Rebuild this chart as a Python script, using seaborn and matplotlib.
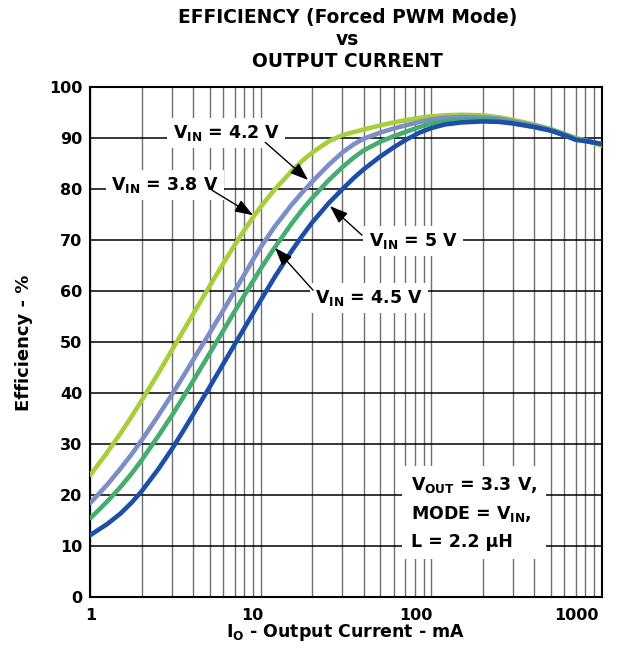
import matplotlib
matplotlib.use('Agg')
import matplotlib.pyplot as plt
import matplotlib.transforms as mtransforms
import pandas as pd
import seaborn as sns

# values
current_ma = [1, 1.25, 1.5, 1.75, 2, 2.5, 3, 3.5, 4, 5, 6, 7, 8, 9, 10, 12,
              15, 17.5, 20, 25, 30, 35, 40, 50, 60, 70, 85, 100, 120, 150,
              200, 250, 300, 400, 500, 600, 700, 850, 1000]
eff_38 = [23.9, 28.2, 32.0, 35.4, 38.5, 43.8, 48.3, 52.1, 55.4, 60.9, 65.3,
          68.9, 71.9, 74.4, 76.5, 79.8, 83.3, 85.5, 87.1, 89.3, 90.5, 91.1,
          91.6, 92.4, 93.0, 93.4, 93.9, 94.2, 94.4, 94.5, 94.4, 94.0, 93.5,
          92.6, 91.7, 90.8, 90.0, 89.2, 88.4]
eff_42 = [18.4, 21.9, 25.1, 28.0, 30.7, 35.5, 39.6, 43.2, 46.4, 51.7, 56.1,
          59.9, 63.2, 66.1, 68.6, 72.5, 76.7, 79.3, 81.4, 84.7, 87.1, 88.7,
          89.8, 91.0, 91.8, 92.4, 93.1, 93.6, 93.9, 94.1, 94.0, 93.7, 93.2,
          92.4, 91.6, 90.7, 89.8, 89.3, 88.7]
eff_45 = [15.4, 18.6, 21.5, 24.2, 26.8, 31.5, 35.5, 39.1, 42.3, 47.7, 52.1,
          55.9, 59.1, 61.9, 64.4, 68.4, 73.0, 75.9, 78.2, 81.7, 84.2, 86.1,
          87.5, 89.2, 90.3, 91.1, 92.1, 92.8, 93.2, 93.5, 93.6, 93.3, 92.9,
          92.1, 91.4, 90.5, 89.7, 89.2, 88.7]
eff_50 = [12.1, 14.2, 16.3, 18.5, 20.7, 25.0, 28.9, 32.5, 35.7, 41.1, 45.6,
          49.4, 52.7, 55.6, 58.2, 62.6, 67.6, 70.8, 73.4, 77.2, 79.9, 82.1,
          83.8, 86.3, 88.1, 89.5, 91.0, 91.9, 92.6, 93.0, 93.2, 93.1, 92.8,
          92.1, 91.4, 90.5, 89.6, 89.2, 88.8]

series = ['3.8 V', '4.2 V', '4.5 V', '5 V']
colors = ['#a7cf3b', '#7d8dc6', '#45ad6f', '#1e4fa8']

rows = []
for name, vals in zip(series, [eff_38, eff_42, eff_45, eff_50]):
    for i, v in zip(current_ma, vals):
        rows.append({'current': i, 'eff': v, 'vin': name})
df = pd.DataFrame(rows)

sns.set_style('white')
plt.rcParams['font.family'] = ['DejaVu Sans']
plt.rcParams['font.weight'] = 'bold'
plt.rcParams['mathtext.fontset'] = 'dejavusans'
plt.rcParams['text.color'] = 'black'
plt.rcParams['axes.labelcolor'] = 'black'
plt.rcParams['xtick.color'] = 'black'
plt.rcParams['ytick.color'] = 'black'

fig = plt.figure(figsize=(6.38, 6.63), dpi=100)
ax = fig.add_axes([0.1417, 0.1, 0.8019, 0.7692])

sns.lineplot(data=df, x='current', y='eff', hue='vin', palette=colors,
             linewidth=3.3, legend=False, estimator=None, sort=False, ax=ax,
             zorder=3)

ax.set_xscale('log')
ax.set_xlim(1, 1000)
ax.set_ylim(0, 100)
ax.set_yticks(range(0, 101, 10))
ax.set_xticks([1, 10, 100, 1000])
ax.set_xticklabels(['1', '10', '100', '1000'])
ax.tick_params(axis='both', which='both', length=0, labelsize=11.5)
ax.tick_params(axis='x', pad=8)
ax.tick_params(axis='y', pad=6)

ax.grid(True, axis='y', which='major', color='black', lw=1.1, zorder=1)
ax.grid(True, axis='x', which='both', color='#707070', lw=1.0, zorder=1)
for s in ax.spines.values():
    s.set_color('black')
    s.set_linewidth(1.5)

# x tick labels sit mostly to the left of their tick
offsets = {'1': 0, '10': -9, '100': -16, '1000': -26}
for lab in ax.get_xticklabels():
    dx = offsets.get(lab.get_text(), 0)
    lab.set_transform(lab.get_transform() +
                      mtransforms.ScaledTranslation(dx / 100, 0, fig.dpi_scale_trans))

ax.set_xlabel(r'$\mathbf{I_O}$ - Output Current - mA', fontsize=12.5,
              fontweight='bold')
ax.xaxis.set_label_coords(0.4977, -0.05)
ax.set_ylabel('Efficiency - %', fontsize=13, fontweight='bold')
ax.yaxis.set_label_coords(-0.112, 0.497)

fig.text(0.545, 0.988, 'EFFICIENCY (Forced PWM Mode)\nvs\nOUTPUT CURRENT',
         ha='center', va='top', fontsize=13.4, fontweight='bold',
         linespacing=1.2)

box = dict(boxstyle='square,pad=0.3', facecolor='white', edgecolor='none')
labels = [
    (r'$\mathbf{V_{IN}}$ = 4.2 V', (6.24, 90.9), (10.6, 89.1), (18.9, 81.7)),
    (r'$\mathbf{V_{IN}}$ = 3.8 V', (2.74, 80.7), (5.17, 79.7), (8.99, 74.8)),
    (r'$\mathbf{V_{IN}}$ = 5 V', (78, 69.7), (39.1, 70.9), (25.4, 76.6)),
    (r'$\mathbf{V_{IN}}$ = 4.5 V', (43.0, 58.6), (20.2, 60.1), (12.1, 68.4)),
]
for txt, pos, start, tip in labels:
    ax.text(pos[0], pos[1], txt, ha='center', va='center', fontsize=12.5,
            fontweight='bold', bbox=box, zorder=4)
    ax.annotate('', xy=tip, xytext=start,
                arrowprops=dict(arrowstyle='-|>,head_length=1.1,head_width=0.4',
                                mutation_scale=10, color='black', lw=1.0,
                                shrinkA=0, shrinkB=0),
                zorder=5)

ax.text(75.9, 16.4,
        r'$\mathbf{V_{OUT}}$ = 3.3 V,' + '\n' + r'MODE = $\mathbf{V_{IN}}$,' + '\n' + 'L = 2.2 μH',
        ha='left', va='center', fontsize=12.5, fontweight='bold',
        linespacing=1.6, zorder=4,
        bbox=dict(boxstyle='square,pad=0.5', facecolor='white', edgecolor='none'))

fig.savefig('out.png', dpi=100)
